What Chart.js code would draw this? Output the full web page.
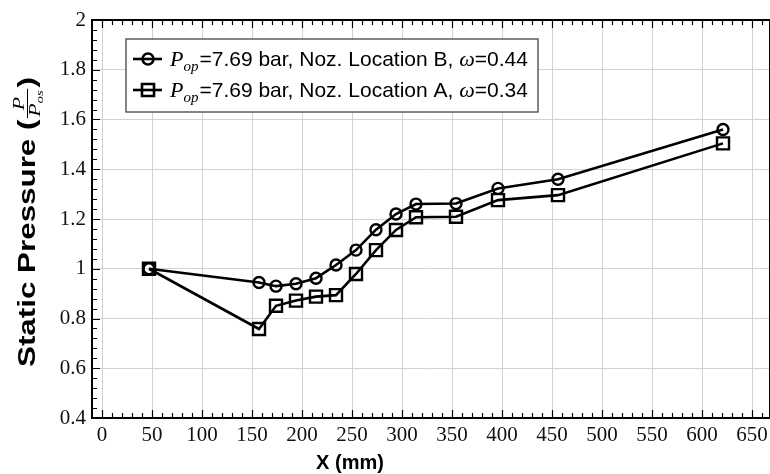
<!DOCTYPE html>
<html>
<head>
<meta charset="utf-8">
<script src="https://cdn.jsdelivr.net/npm/chart.js@4"></script>
<style>
  html, body { margin: 0; padding: 0; background: #fff; }
  #wrap { width: 770px; height: 474px; }
</style>
</head>
<body>
<div id="wrap"><canvas id="pressureChart" width="770" height="474"></canvas></div>
<script>
// axial station along the nozzle (mm)
const xPositions = [47, 157, 174, 194, 214, 234, 254, 274, 294, 314, 354, 396, 456, 621];
// static pressure ratio P / Pos
const pressureLocB = [1.0, 0.945, 0.93, 0.94, 0.962, 1.015, 1.075, 1.157, 1.22, 1.26, 1.262, 1.323, 1.36, 1.56];
const pressureLocA = [1.0, 0.758, 0.851, 0.872, 0.888, 0.894, 0.979, 1.075, 1.156, 1.207, 1.209, 1.276, 1.296, 1.504];

// legend pieces
const opPressures = ["7.69", "7.69"];
const nozzleLocations = ["B", "A"];
const omegas = ["0.44", "0.34"];
const markerStyles = ["circle", "rect"];

const xTicks = [0, 50, 100, 150, 200, 250, 300, 350, 400, 450, 500, 550, 600, 650];
const yTicks = [0.4, 0.6, 0.8, 1, 1.2, 1.4, 1.6, 1.8, 2];

const SERIF = '"Liberation Serif", "DejaVu Serif", serif';
const SANS = '"Liberation Sans", Arial, sans-serif';

// inward minor/major ticks and the closed frame
const framePlugin = {
  id: "frame",
  afterDatasetsDraw(chart) {
    const { ctx, chartArea: a, scales } = chart;
    const x = scales.x, y = scales.y;
    ctx.save();
    ctx.strokeStyle = "#000";
    ctx.lineWidth = 1.2;
    ctx.beginPath();
    for (let v = 0; v <= 660; v += 10) {
      const px = Math.round(x.getPixelForValue(v)) + 0.5;
      const len = v % 50 === 0 ? 8 : 5;
      ctx.moveTo(px, a.bottom); ctx.lineTo(px, a.bottom - len);
      ctx.moveTo(px, a.top); ctx.lineTo(px, a.top + len);
    }
    for (let k = 0; k <= 40; k++) {
      const py = Math.round(y.getPixelForValue(0.4 + k * 0.04)) + 0.5;
      const len = k % 5 === 0 ? 8 : 5;
      ctx.moveTo(a.left, py); ctx.lineTo(a.left + len, py);
    }
    ctx.stroke();
    ctx.lineWidth = 2;
    ctx.strokeRect(a.left, a.top, a.right - a.left, a.bottom - a.top);
    ctx.restore();
  },
  afterDraw(chart) {
    const { ctx, chartArea: a } = chart;
    ctx.save();

    // ---- legend box ----
    const bx = a.left + 34, by = a.top + 19, bw = 412, bh = 73;
    ctx.fillStyle = "#fff";
    ctx.fillRect(bx, by, bw, bh);
    ctx.strokeStyle = "#444";
    ctx.lineWidth = 1.3;
    ctx.strokeRect(bx, by, bw, bh);

    chart.data.datasets.forEach((ds, i) => {
      const cy = by + 20 + i * 31;
      ctx.strokeStyle = "#000";
      ctx.lineWidth = 2.6;
      ctx.beginPath();
      ctx.moveTo(bx + 7, cy); ctx.lineTo(bx + 36, cy);
      ctx.stroke();
      ctx.fillStyle = "rgba(0,0,0,0)";
      Chart.helpers.drawPoint(ctx, {
        pointStyle: ds.pointStyle, radius: ds.pointRadius, borderWidth: 2.4, rotation: 0
      }, bx + 22, cy);

      let tx = bx + 44;
      const base = cy + 7;
      ctx.fillStyle = "#000";
      ctx.textBaseline = "alphabetic";
      ctx.textAlign = "left";
      const put = (txt, font, dy) => {
        ctx.font = font;
        ctx.fillText(txt, tx, base + (dy || 0));
        tx += ctx.measureText(txt).width;
      };
      put("P", "italic 22px " + SERIF);
      put("op", "italic 15px " + SERIF, 5);
      tx += 1;
      put("=" + opPressures[i] + " bar, Noz. Location " + nozzleLocations[i] + ", ", "21px " + SANS);
      put("\u03c9", "italic 22px " + SERIF);
      put("=" + omegas[i], "21px " + SANS);
    });

    // ---- x title ----
    ctx.fillStyle = "#000";
    ctx.font = "bold 20px " + SANS;
    ctx.textAlign = "center";
    ctx.textBaseline = "alphabetic";
    ctx.fillText("X (mm)", 350, 469);

    // ---- y title with fraction ----
    ctx.translate(35, 222);
    ctx.rotate(-Math.PI / 2);
    ctx.textAlign = "left";
    const main = "Static Pressure (";
    const titleFont = "bold 23px " + SANS;
    ctx.font = titleFont;
    const w1 = ctx.measureText(main).width;
    const w3 = ctx.measureText(")").width;
    ctx.font = "italic 16px " + SERIF;
    const wP = ctx.measureText("P").width;
    ctx.font = "italic 11px " + SERIF;
    const wOs = ctx.measureText("os").width;
    const fracW = wP + wOs + 4;
    const total = w1 + fracW + w3;
    const targetLen = 290;
    ctx.scale(targetLen / total, 1);
    let lx = -total / 2;
    ctx.font = titleFont;
    ctx.fillText(main, lx, 0);
    lx += w1;
    // fraction: numerator, bar, denominator
    ctx.font = "italic 16px " + SERIF;
    ctx.textAlign = "center";
    ctx.fillText("P", lx + fracW / 2, -11);
    ctx.fillRect(lx + 1, -8, fracW - 2, 1);
    ctx.textAlign = "left";
    ctx.fillText("P", lx + 2, 5);
    ctx.font = "italic 11px " + SERIF;
    ctx.fillText("os", lx + 2 + wP, 8);
    lx += fracW;
    ctx.font = titleFont;
    ctx.fillText(")", lx, 0);

    ctx.restore();
  }
};

const ctx = document.getElementById("pressureChart").getContext("2d");

new Chart(ctx, {
  type: "line",
  data: {
    labels: xPositions,
    datasets: [
      {
        label: "Noz. Location " + nozzleLocations[0],
        data: xPositions.map((x, i) => ({ x: x, y: pressureLocB[i] })),
        borderColor: "#000",
        borderWidth: 2.6,
        pointStyle: markerStyles[0],
        pointRadius: 5.5,
        pointBorderWidth: 2.4,
        pointBorderColor: "#000",
        pointBackgroundColor: "rgba(0,0,0,0)",
        fill: false,
        tension: 0,
        order: 1
      },
      {
        label: "Noz. Location " + nozzleLocations[1],
        data: xPositions.map((x, i) => ({ x: x, y: pressureLocA[i] })),
        borderColor: "#000",
        borderWidth: 2.6,
        pointStyle: markerStyles[1],
        pointRadius: 8.5,
        pointBorderWidth: 2.4,
        pointBorderColor: "#000",
        pointBackgroundColor: "rgba(0,0,0,0)",
        fill: false,
        tension: 0,
        order: 0
      }
    ]
  },
  options: {
    responsive: false,
    animation: false,
    devicePixelRatio: 1,
    layout: { autoPadding: false, padding: { top: 20, right: 0, left: 0, bottom: 0 } },
    plugins: {
      legend: { display: false },
      tooltip: { enabled: false }
    },
    scales: {
      x: {
        type: "linear",
        min: -10,
        max: 668,
        afterBuildTicks: (scale) => { scale.ticks = xTicks.map(v => ({ value: v })); },
        afterFit: (scale) => {
          scale.height = 56;
          scale.paddingRight = 0;
          scale.paddingLeft = 0;
        },
        grid: { color: "#d2d2d2", lineWidth: 1, drawTicks: false },
        border: { display: true, color: "#000", width: 2 },
        ticks: {
          font: { family: SERIF, size: 21 },
          color: "#111",
          padding: 5,
          maxRotation: 0,
          autoSkip: false
        }
      },
      y: {
        min: 0.4,
        max: 2,
        afterBuildTicks: (scale) => { scale.ticks = yTicks.map(v => ({ value: v })); },
        afterFit: (scale) => {
          scale.width = 92;
          scale.paddingTop = 0;
          scale.paddingBottom = 0;
        },
        grid: { color: "#d2d2d2", lineWidth: 1, drawTicks: false },
        border: { display: true, color: "#000", width: 2 },
        ticks: {
          font: { family: SERIF, size: 21 },
          color: "#111",
          padding: 6,
          callback: (v) => String(Math.round(v * 10) / 10)
        }
      }
    }
  },
  plugins: [framePlugin]
});
</script>
</body>
</html>
